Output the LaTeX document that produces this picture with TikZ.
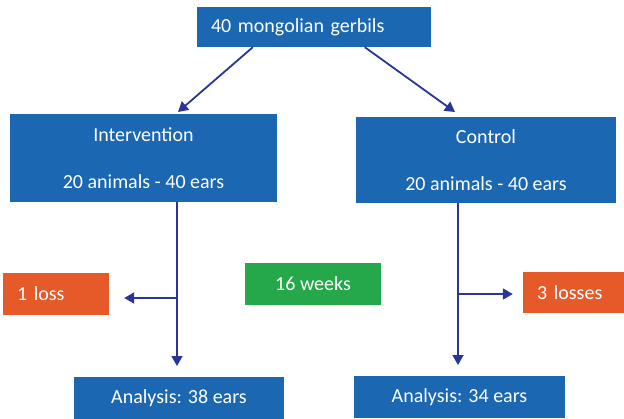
\documentclass[tikz,border=0pt]{standalone}
\usepackage{fontspec}
\setmainfont{Carlito}
\usetikzlibrary{arrows.meta}
\definecolor{boxblue}{RGB}{27,103,178}
\definecolor{boxorange}{RGB}{230,89,40}
\definecolor{boxgreen}{RGB}{36,168,74}
\definecolor{arrowblue}{RGB}{44,52,150}
\tikzset{
  box/.style={rectangle, inner sep=0pt, text=white, font=\fontsize{20}{47}\selectfont},
  bluebox/.style={box, fill=boxblue},
  orangebox/.style={box, fill=boxorange},
  greenbox/.style={box, fill=boxgreen},
  arr/.style={draw=arrowblue, line width=1.8pt, -{Triangle[length=10pt,width=11pt]}},
  seg/.style={draw=arrowblue, line width=1.8pt}
}
\begin{document}
\begin{tikzpicture}[x=1pt,y=-1pt]
\useasboundingbox (0,0) rectangle (624,418);
\fill[white] (0,0) rectangle (624,418);
\begin{scope}
\clip (0,0) rectangle (624,418);
\node[bluebox, minimum width=234pt, minimum height=40pt, text width=206pt, inner xsep=14pt, align=left] (top) at (314,27) {40 mongolian gerbils};
\node[bluebox, minimum width=267pt, minimum height=88pt, align=center] (int) at (143.5,158) {Intervention\\20 animals - 40 ears};
\node[bluebox, minimum width=260pt, minimum height=86pt, align=center] (ctl) at (486,160) {Control\\20 animals - 40 ears};
\node[orangebox, minimum width=106pt, minimum height=42pt, text width=78pt, inner xsep=14pt, align=left] (loss1) at (56,294) {1 loss};
\node[greenbox, minimum width=136pt, minimum height=42pt, align=center] (weeks) at (313,284) {16 weeks};
\node[orangebox, minimum width=110pt, minimum height=41pt, text width=82pt, inner xsep=14pt, align=left] (loss3) at (578,292.5) {3 losses};
\node[bluebox, minimum width=210pt, minimum height=42pt, align=center] (an38) at (179,398) {Analysis: 38 ears};
\node[bluebox, minimum width=211pt, minimum height=42pt, align=center] (an34) at (459.5,397) {Analysis: 34 ears};
\end{scope}
% top arrows
\coordinate (tl) at (178,112);
\coordinate (tr) at (455,112);
\draw[arr] ([xshift=56pt]top.south west) -- (tl);
\draw[arr] ([xshift=168pt]top.south west) -- (tr);
% left branch
\coordinate (lb) at (177,298);
\coordinate (le) at (177,366);
\draw[arr] (int.south -| lb) -- (le);
\draw[arr, shorten >=15pt] (lb) -- (loss1.east |- lb);
% right branch
\coordinate (rb) at (458,294);
\coordinate (re) at (458,365);
\draw[arr] (ctl.south -| rb) -- (re);
\draw[arr, shorten >=10pt] (rb) -- (loss3.west |- rb);
\end{tikzpicture}
\end{document}
